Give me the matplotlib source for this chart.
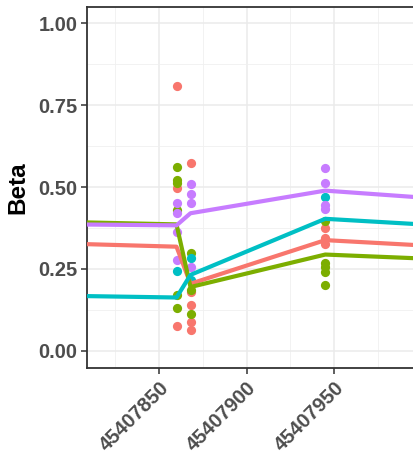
import matplotlib
matplotlib.use("Agg")
from matplotlib import pyplot as plt
from matplotlib.ticker import MultipleLocator

# ggplot hue palette, 4 groups
kleuren = ["#F8766D", "#7CAE00", "#00BFC4", "#C77CFF"]

# posities (bp) van de CpG's
pos_links = 45407800
pos1 = 45407860
pos2 = 45407868
pos3 = 45407945
pos_rechts = 45408000
line_pos = [pos_links, pos1, pos2, pos3, pos_rechts]

# gemiddelde lijnen per groep
line_rood = [0.327, 0.318, 0.205, 0.338, 0.322]
line_groen = [0.393, 0.386, 0.195, 0.294, 0.282]
line_cyaan = [0.168, 0.163, 0.232, 0.403, 0.386]
line_paars = [0.386, 0.383, 0.420, 0.489, 0.468]

# losse metingen per groep, per positie
rood_p1 = [0.808, 0.496, 0.076]
rood_p2 = [0.572, 0.18, 0.140, 0.089, 0.064]
rood_p3 = [0.376, 0.345, 0.326]

groen_p1 = [0.560, 0.521, 0.513, 0.430, 0.171, 0.130]
groen_p2 = [0.300, 0.186, 0.113]
groen_p3 = [0.397, 0.268, 0.257, 0.242, 0.200]

cyaan_p1 = [0.245]
cyaan_p2 = [0.283, 0.215]
cyaan_p3 = [0.470]

paars_p1 = [0.452, 0.420, 0.364, 0.277]
paars_p2 = [0.508, 0.479, 0.450, 0.257]
paars_p3 = [0.558, 0.512, 0.445, 0.432]

punten = [
    (rood_p1, rood_p2, rood_p3),
    (groen_p1, groen_p2, groen_p3),
    (cyaan_p1, cyaan_p2, cyaan_p3),
    (paars_p1, paars_p2, paars_p3),
]
lijnen = [line_rood, line_groen, line_cyaan, line_paars]

xticks = [45407850, 45407900, 45407950]
yticks = [0.00, 0.25, 0.50, 0.75, 1.00]

plt.rcParams["font.family"] = ["Liberation Sans", "DejaVu Sans"]

W, H = 413, 453
fig = plt.figure(figsize=(W / 100, H / 100), dpi=100)
ax_l, ax_r, ax_t, ax_b = 87, 560, 7, 368
ax = fig.add_axes([ax_l / W, 1 - ax_b / H, (ax_r - ax_l) / W, (ax_b - ax_t) / H])

px_per_bp = 1.75
xmin = 45407850 - (159 - ax_l) / px_per_bp
ax.set_xlim(xmin, xmin + (ax_r - ax_l) / px_per_bp)
ax.set_ylim(-0.052, 1.049)

# punten eerst, lijnen erover
for kleur, (p1, p2, p3) in zip(kleuren, punten):
    for x, vals in ((pos1, p1), (pos2, p2), (pos3, p3)):
        ax.scatter([x] * len(vals), vals, s=44, color=kleur, linewidths=0, zorder=3)
for kleur, lijn in zip(kleuren, lijnen):
    ax.plot(line_pos, lijn, color=kleur, lw=3, zorder=4, solid_joinstyle="round")

ax.set_xticks(xticks)
ax.set_xticklabels([str(x) for x in xticks], rotation=45, ha="right", va="top",
                   rotation_mode="anchor")
ax.set_yticks(yticks)
ax.set_yticklabels(["%.2f" % y for y in yticks])
ax.xaxis.set_minor_locator(MultipleLocator(25))
ax.yaxis.set_minor_locator(MultipleLocator(0.125))

ax.grid(which="major", color="#EBEBEB", lw=1.1, zorder=0)
ax.grid(which="minor", color="#F0F0F0", lw=0.6, zorder=0)
ax.set_axisbelow(True)

for side in ["left", "bottom", "top"]:
    ax.spines[side].set_color("#333333")
    ax.spines[side].set_linewidth(1.3)
ax.spines["right"].set_visible(False)

ax.tick_params(which="major", length=4, width=1.1, color="#333333",
               labelsize=14.5, labelcolor="#4D4D4D", pad=3)
ax.tick_params(which="minor", length=0)
for lbl in ax.get_xticklabels() + ax.get_yticklabels():
    lbl.set_fontweight("bold")

ax.set_ylabel("Beta", fontsize=17.5, fontweight="bold", labelpad=6)

fig.savefig("out.png", dpi=100)
